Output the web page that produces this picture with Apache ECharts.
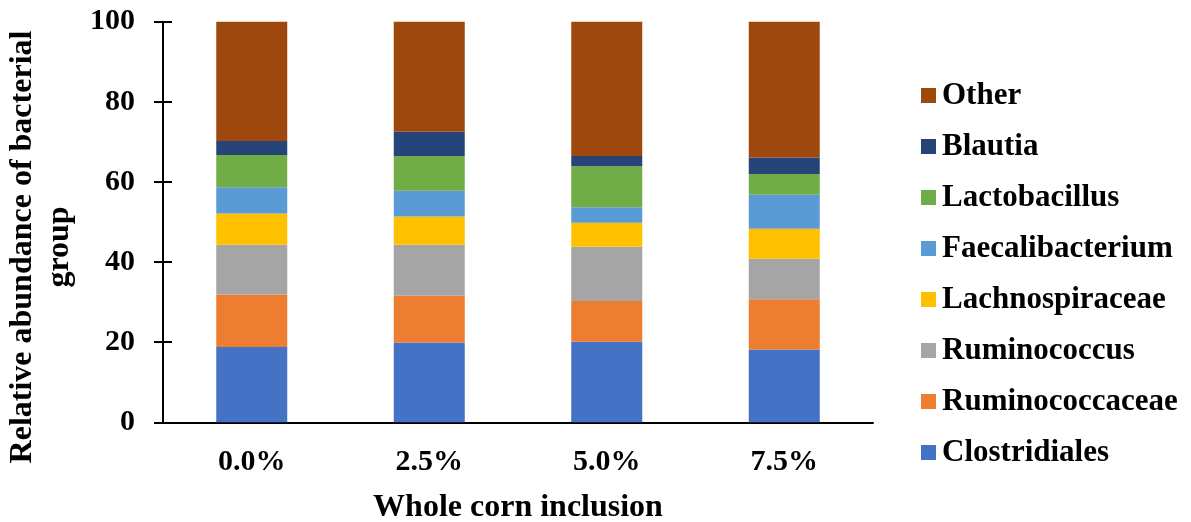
<!DOCTYPE html>
<html>
<head>
<meta charset="utf-8">
<script src="https://cdn.jsdelivr.net/npm/echarts@6/dist/echarts.min.js"></script>
<style>
  html, body { margin: 0; padding: 0; background: #fff; }
  #chart { width: 1191px; height: 522px; }
</style>
</head>
<body>
<div id="chart"></div>
<script>
// Whole corn inclusion levels
const categories = ['0.0%', '2.5%', '5.0%', '7.5%'];

// Relative abundance (%) of each bacterial group, stacked bottom to top
const clostridiales    = [18.8, 19.9, 20.1, 18.2];
const ruminococcaceae  = [13.1, 11.7, 10.2, 12.5];
const ruminococcus     = [12.4, 12.7, 13.5, 10.1];
const lachnospiraceae  = [7.8, 7.1, 6.0, 7.5];
const faecalibacterium = [6.6, 6.4, 3.9, 8.5];
const lactobacillus    = [8.0, 8.7, 10.2, 5.2];
const blautia          = [3.5, 6.0, 2.6, 4.1];
const other            = [29.8, 27.5, 33.5, 33.9];

const yTicks = [0, 20, 40, 60, 80, 100];

const groups = [
  { name: 'Clostridiales',    data: clostridiales,    color: '#4472C4' },
  { name: 'Ruminococcaceae',  data: ruminococcaceae,  color: '#ED7D31' },
  { name: 'Ruminococcus',     data: ruminococcus,     color: '#A5A5A5' },
  { name: 'Lachnospiraceae',  data: lachnospiraceae,  color: '#FFC000' },
  { name: 'Faecalibacterium', data: faecalibacterium, color: '#5B9BD5' },
  { name: 'Lactobacillus',    data: lactobacillus,    color: '#70AD47' },
  { name: 'Blautia',          data: blautia,          color: '#264478' },
  { name: 'Other',            data: other,            color: '#9E480E' }
];

const FONT = '"Liberation Serif", "Times New Roman", serif';
const axisLine = { show: true, lineStyle: { color: '#000', width: 2 } };

const chart = echarts.init(document.getElementById('chart'));
chart.setOption({
  animation: false,
  backgroundColor: '#fff',
  grid: { left: 163, right: 318, top: 21.7, bottom: 99.7, containLabel: false, outerBoundsMode: 'none' },
  legend: {
    orient: 'vertical',
    left: 916,
    top: 75,
    itemWidth: 15,
    itemHeight: 15,
    itemGap: 20,
    icon: 'rect',
    data: groups.map(g => g.name).reverse(),
    textStyle: { fontFamily: FONT, fontWeight: 'bold', fontSize: 31, color: '#000', lineHeight: 31, padding: [0, 0, 0, 1] }
  },
  xAxis: {
    type: 'category',
    data: categories,
    axisLine: axisLine,
    axisTick: { show: false },
    axisLabel: { fontFamily: FONT, fontWeight: 'bold', fontSize: 30, color: '#000', margin: 25 },
    name: 'Whole corn inclusion',
    nameLocation: 'middle',
    nameGap: 69,
    nameTextStyle: { fontFamily: FONT, fontWeight: 'bold', fontSize: 32, color: '#000' }
  },
  yAxis: [
    {
      type: 'value',
      min: yTicks[0],
      max: yTicks[yTicks.length - 1],
      interval: yTicks[1] - yTicks[0],
      axisLine: axisLine,
      axisTick: { show: true, length: 9, lineStyle: { color: '#000', width: 2 } },
      axisLabel: { fontFamily: FONT, fontWeight: 'bold', fontSize: 30, color: '#000', margin: 28 },
      splitLine: { show: false }
    },
    {
      // inner half of the crossing tick marks
      type: 'value',
      position: 'left',
      min: yTicks[0],
      max: yTicks[yTicks.length - 1],
      interval: yTicks[1] - yTicks[0],
      axisLine: { show: false },
      axisTick: { show: true, inside: true, length: 9, lineStyle: { color: '#000', width: 2 } },
      axisLabel: { show: false },
      splitLine: { show: false }
    }
  ],
  graphic: [{
    type: 'text',
    x: 41,
    y: 247,
    rotation: Math.PI / 2,
    style: {
      text: 'Relative abundance of bacterial\ngroup',
      font: 'bold 32px ' + FONT,
      fill: '#000',
      align: 'center',
      verticalAlign: 'middle',
      lineHeight: 37
    }
  }],
  series: groups.map(g => ({
    name: g.name,
    type: 'bar',
    stack: 'total',
    barWidth: '40%',
    data: g.data,
    itemStyle: { color: g.color }
  }))
});
</script>
</body>
</html>
